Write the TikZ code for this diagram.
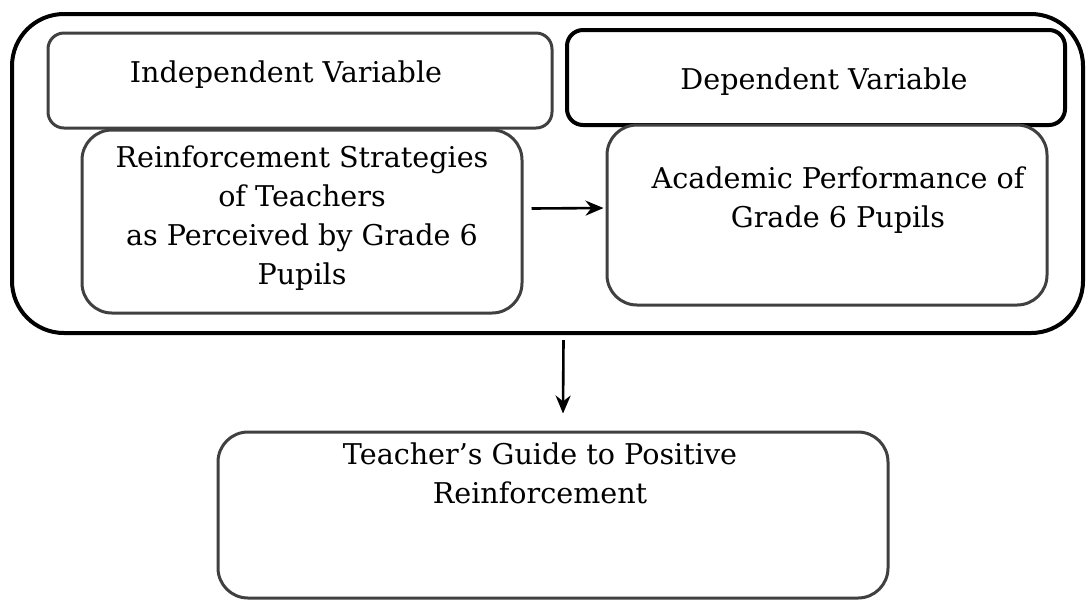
\documentclass[tikz,border=0pt]{standalone}
\usepackage{fontspec}
\setmainfont{DejaVu Serif}
\usetikzlibrary{positioning,arrows.meta}

\begin{document}
\begin{tikzpicture}[x=0.5pt, y=-0.5pt,
  box/.style={draw=black!75, line width=1.5pt, rounded corners=8pt, fill=white},
  txt/.style={align=center, inner sep=0pt, font=\fontsize{14.3}{19.5}\selectfont},
  arr/.style={-{Stealth[length=9pt,width=7.5pt]}, line width=1.3pt}]
\useasboundingbox (0,0) rectangle (1086,602);
% outer frame
\node[draw, line width=2pt, rounded corners=26pt, minimum width=535.5pt, minimum height=159.5pt] (frame) at (547.5,173.5) {};
% variable headers
\node[box, minimum width=252pt, minimum height=47.5pt] (indep) at (300,80.5) {};
\node[box, draw=black, line width=2pt, minimum width=249pt, minimum height=47.5pt] (dep) at (816,77.5) {};
\node[txt] (indeptxt) at (286,75) {Independent Variable};
\node[txt] (deptxt) at (824,82) {Dependent Variable};
% variable boxes
\node[box, rounded corners=15pt, minimum width=220pt, minimum height=91.5pt] (strat) at (302,221.5) {};
\node[box, rounded corners=15pt, minimum width=220pt, minimum height=90pt] (acad) at (827,215) {};
\node[txt] (strattxt) at (302,218) {Reinforcement Strategies\\of Teachers\\as Perceived by Grade 6\\Pupils};
\node[txt] (acadtxt) at (838,200) {Academic Performance of\\Grade 6 Pupils};
% output
\node[box, rounded corners=15pt, minimum width=335pt, minimum height=83pt] (guide) at (553,515) {};
\node[txt] (guidetxt) at (540,473) {Teacher's Guide to Positive\\Reinforcement};
% arrows
\draw[arr] ([xshift=4pt,yshift=6.5pt]strat.east) -- ([xshift=-1pt,yshift=3.5pt]acad.west);
\draw[arr] ([xshift=8pt,yshift=-2.5pt]frame.south) -- ([xshift=5pt,yshift=8.5pt]guide.north);
\end{tikzpicture}
\end{document}
